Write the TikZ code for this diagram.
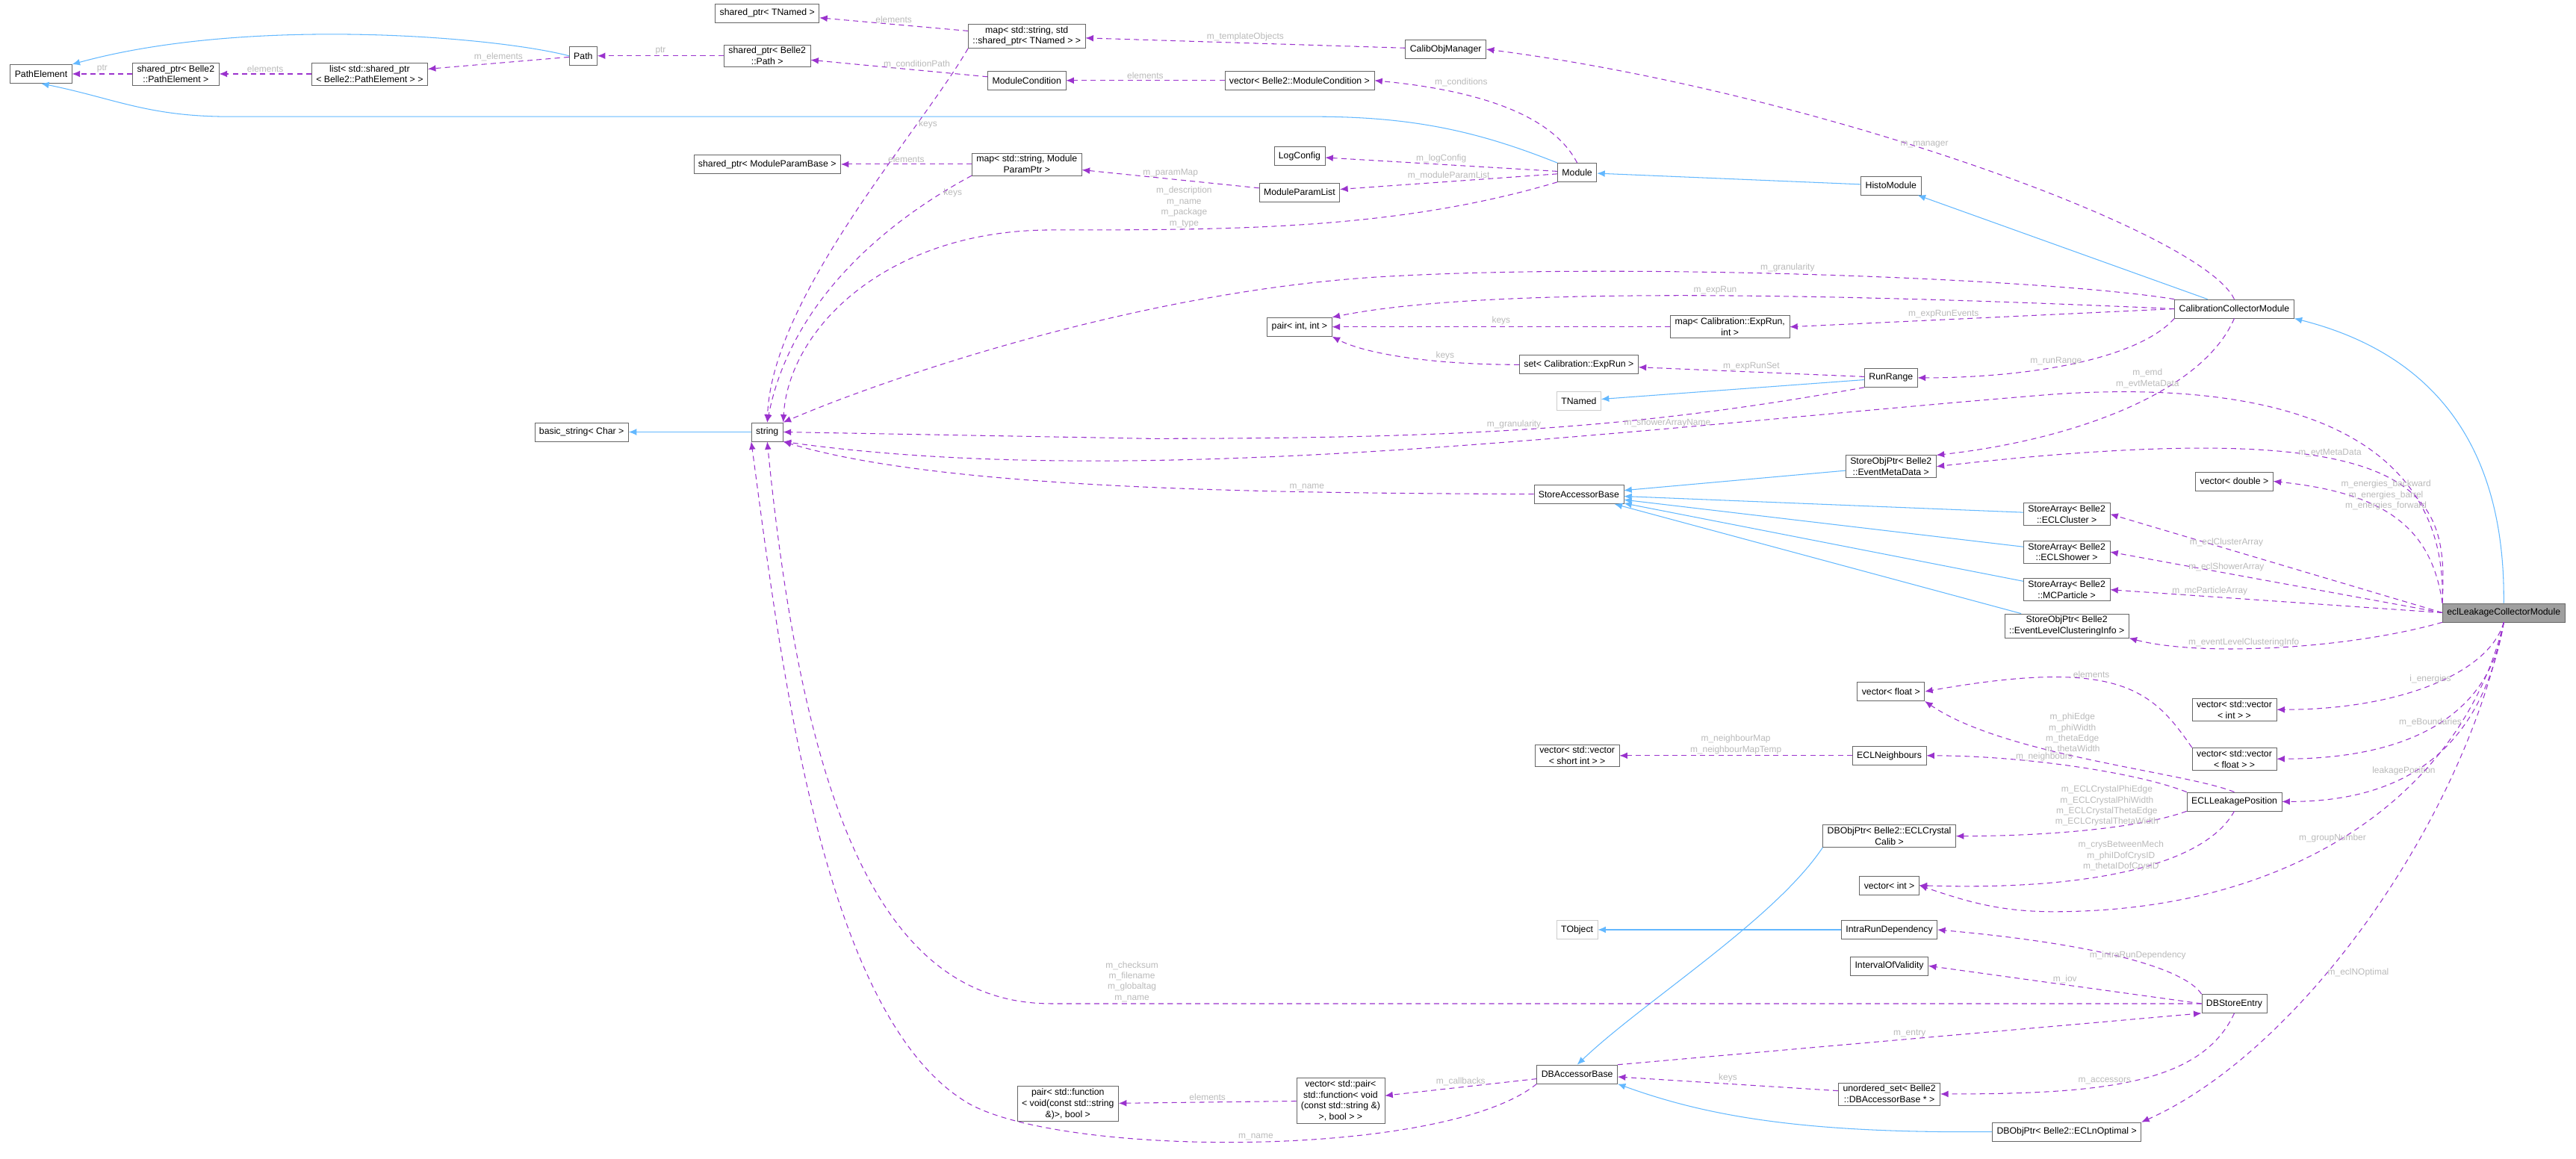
\documentclass[tikz,border=0pt]{standalone}
\usepackage{fontspec}
\setmainfont{Liberation Sans}
\usetikzlibrary{arrows.meta}
\definecolor{usecol}{HTML}{9A32CD}
\definecolor{inhcol}{HTML}{63B8FF}
\definecolor{edgecol}{HTML}{666666}
\tikzset{
  cls/.style={draw=edgecol, fill=white, align=center, inner xsep=0.12cm, inner ysep=0.06cm, minimum height=0.5cm, font=\fontsize{7}{8.4}\selectfont},
  ext/.style={cls, draw=gray!40},
  focus/.style={cls, fill=gray!75},
  use/.style={usecol, dashed, dash pattern=on 4pt off 3pt, semithick, -{Latex[length=6pt,width=5pt]}},
  inh/.style={inhcol, semithick, -{Latex[length=6pt,width=5pt]}},
  lbl/.style={text=gray!55, font=\fontsize{6.8}{8.2}\selectfont, align=center, inner sep=1pt}
}
\begin{document}
\begin{tikzpicture}[x=0.044cm, y=-0.044cm]
\useasboundingbox (0,0) rectangle (1568,705.5);
% left column
\node[cls] (pathelem) at (25,45) {PathElement};
\node[cls] (sppe) at (107,45) {shared\_ptr< Belle2\\::PathElement >};
\node[cls] (listpe) at (225,45) {list< std::shared\_ptr\\< Belle2::PathElement > >};
\node[cls] (path) at (355,34) {Path};
\node[cls] (sptnamed) at (467,8) {shared\_ptr< TNamed >};
\node[cls] (sppath) at (467,34) {shared\_ptr< Belle2\\::Path >};
\node[cls] (sparam) at (467,100) {shared\_ptr< ModuleParamBase >};
\node[cls] (basicstr) at (354,263) {basic\_string< Char >};
\node[cls] (string) at (467,263) {string};
% module column
\node[cls] (maptnamed) at (625,22) {map< std::string, std\\::shared\_ptr< TNamed > >};
\node[cls] (modcond) at (625,49) {ModuleCondition};
\node[cls] (mapparam) at (625,100) {map< std::string, Module\\ParamPtr >};
\node[cls] (calibobj) at (880,30) {CalibObjManager};
\node[cls] (vecmodcond) at (791,49) {vector< Belle2::ModuleCondition >};
\node[cls] (logcfg) at (791,95) {LogConfig};
\node[cls] (paramlist) at (791,117) {ModuleParamList};
\node[cls] (module) at (960,105) {Module};
\node[cls] (histo) at (1151,113) {HistoModule};
\node[cls] (calcoll) at (1360,188) {CalibrationCollectorModule};
\node[cls] (pairint) at (791,199) {pair< int, int >};
\node[cls] (mapexprun) at (1053,199) {map< Calibration::ExpRun,\\int >};
\node[cls] (setexprun) at (961,222) {set< Calibration::ExpRun >};
\node[ext] (tnamed) at (961,244) {TNamed};
\node[cls] (runrange) at (1151,230) {RunRange};
% store column
\node[cls] (sopmeta) at (1151,284) {StoreObjPtr< Belle2\\::EventMetaData >};
\node[cls] (storebase) at (961,301) {StoreAccessorBase};
\node[cls] (vecdouble) at (1360,293) {vector< double >};
\node[cls] (sacluster) at (1258,313) {StoreArray< Belle2\\::ECLCluster >};
\node[cls] (sashower) at (1258,336) {StoreArray< Belle2\\::ECLShower >};
\node[cls] (samcp) at (1258,359) {StoreArray< Belle2\\::MCParticle >};
\node[cls] (sopelci) at (1258,381) {StoreObjPtr< Belle2\\::EventLevelClusteringInfo >};
\node[focus] (ecl) at (1524,373) {eclLeakageCollectorModule};
% ecl leakage column
\node[cls] (vecfloat) at (1151,421) {vector< float >};
\node[cls] (vvint) at (1360,432) {vector< std::vector\\< int > >};
\node[cls] (vvshort) at (960,460) {vector< std::vector\\< short int > >};
\node[cls] (neighb) at (1150,460) {ECLNeighbours};
\node[cls] (vvfloat) at (1360,462) {vector< std::vector\\< float > >};
\node[cls] (leakpos) at (1360,488) {ECLLeakagePosition};
\node[cls] (dbcrys) at (1150,509) {DBObjPtr< Belle2::ECLCrystal\\Calib >};
\node[cls] (vecint) at (1150,539) {vector< int >};
\node[ext] (tobject) at (960,566) {TObject};
\node[cls] (intrarun) at (1150,566) {IntraRunDependency};
\node[cls] (iov) at (1150,588) {IntervalOfValidity};
\node[cls] (dbstore) at (1360,611) {DBStoreEntry};
\node[cls] (pairfunc) at (650,672) {pair< std::function\\< void(const std::string\\\&)>, bool >};
\node[cls] (vecpair) at (816,670) {vector< std::pair<\\std::function< void\\(const std::string \&)\\>, bool > >};
\node[cls] (dbaccess) at (960,654) {DBAccessorBase};
\node[cls] (uset) at (1150,666) {unordered\_set< Belle2\\::DBAccessorBase * >};
\node[cls] (dbnopt) at (1258,689) {DBObjPtr< Belle2::ECLnOptimal >};
% inheritance
\draw[inh] (path.west) .. controls (300,22) and (150,10) .. (pathelem.north east);
\draw[inh] (module.north west) .. controls (900,80) and (860,71) .. (800,71) -- (140,71) .. controls (90,71) and (70,60) .. (pathelem.south);
\draw[inh] (histo) -- (module);
\draw[inh] (calcoll) -- (histo);
\draw[inh] (ecl.north) .. controls (1525,270) and (1480,215) .. (calcoll.south east);
\draw[inh] (runrange) -- (tnamed);
\draw[inh] (string) -- (basicstr);
\draw[inh] (sopmeta) -- (storebase);
\draw[inh] (sacluster) -- (storebase);
\draw[inh] (sashower) -- (storebase);
\draw[inh] (samcp) -- (storebase);
\draw[inh] (sopelci) -- (storebase);
\draw[inh] (intrarun) -- (tobject);
\draw[inh] (dbcrys.south west) .. controls (1080,560) and (1000,610) .. (dbaccess.north);
\draw[inh] (dbnopt.west) .. controls (1100,690) and (1040,680) .. (dbaccess.south east);
% usage
\draw[use] (sppe) -- node[lbl, above] {ptr} (pathelem);
\draw[use] (listpe) -- node[lbl, above] {elements} (sppe);
\draw[use] (path) -- node[lbl, above] {m\_elements} (listpe);
\draw[use] (sppath) -- node[lbl, above] {ptr} (path);
\draw[use] (maptnamed) -- node[lbl, above] {elements} (sptnamed);
\draw[use] (modcond) -- node[lbl, above, pos=.4] {m\_conditionPath} (sppath);
\draw[use] (calibobj) -- node[lbl, above] {m\_templateObjects} (maptnamed);
\draw[use] (vecmodcond) -- node[lbl, above] {elements} (modcond);
\draw[use] (module.north) .. controls (945,70) and (900,55) .. node[lbl, above right, pos=.8] {m\_conditions} (vecmodcond.east);
\draw[use] (mapparam) -- node[lbl, above] {elements} (sparam);
\draw[use] (paramlist) -- node[lbl, above] {m\_paramMap} (mapparam);
\draw[use] (module) -- node[lbl, above] {m\_logConfig} (logcfg);
\draw[use] (module) -- node[lbl, above] {m\_moduleParamList} (paramlist);
\draw[use] (maptnamed.south west) .. controls (560,80) and (470,180) .. node[lbl, right, pos=.25] {keys} (string.north);
\draw[use] (mapparam.south west) .. controls (530,140) and (480,190) .. node[lbl, right, pos=.1] {keys} (string.north);
\draw[use] (module.south west) .. controls (850,140) and (750,140) .. node[lbl, above, pos=.75] {m\_description\\m\_name\\m\_package\\m\_type} (640,140) .. controls (540,140) and (480,200) .. (string.north east);
\draw[use] (calcoll.north west) .. controls (1250,170) and (1000,160) .. node[lbl, above, pos=.55] {m\_granularity} (850,168) .. controls (700,175) and (540,230) .. (string.north east);
\draw[use] (calcoll.north) .. controls (1340,140) and (1100,55) .. node[lbl, above, pos=.55] {m\_manager} (calibobj.east);
\draw[use] (calcoll.west) .. controls (1100,178) and (900,175) .. node[lbl, above, pos=.45] {m\_expRun} (pairint.north east);
\draw[use] (mapexprun) -- node[lbl, above] {keys} (pairint);
\draw[use] (calcoll.west) -- node[lbl, above, pos=.6] {m\_expRunEvents} (mapexprun.east);
\draw[use] (setexprun.west) .. controls (870,222) and (830,215) .. node[lbl, above, pos=.3] {keys} (pairint.south east);
\draw[use] (runrange) -- node[lbl, above] {m\_expRunSet} (setexprun);
\draw[use] (calcoll.south west) .. controls (1300,220) and (1230,230) .. node[lbl, above, pos=.55] {m\_runRange} (runrange.east);
\draw[use] (runrange.south west) .. controls (1000,260) and (900,267) .. node[lbl, above, pos=.55] {m\_granularity} (700,267) -- (string.east);
\draw[use] (calcoll.south) .. controls (1340,240) and (1260,268) .. node[lbl, left, pos=.3] {m\_emd\\m\_evtMetaData} (sopmeta.north east);
\draw[use] (ecl.north west) .. controls (1490,270) and (1400,230) .. (1250,240) .. controls (1000,260) and (700,300) .. node[lbl, above, pos=.3] {m\_showerArrayName} (string.south east);
\draw[use] (storebase) .. controls (800,300) and (580,300) .. node[lbl, above, pos=.3] {m\_name} (string.south east);
\draw[use] (ecl.north west) .. controls (1490,300) and (1480,250) .. node[lbl, above, pos=.6] {m\_evtMetaData} (sopmeta.east);
\draw[use] (ecl.north west) .. controls (1480,320) and (1450,300) .. node[lbl, above, pos=.55] {m\_energies\_backward\\m\_energies\_barrel\\m\_energies\_forward} (vecdouble.east);
\draw[use] (ecl.west) -- node[lbl, above, pos=.65] {m\_eclClusterArray} (sacluster.east);
\draw[use] (ecl.west) -- node[lbl, above, pos=.65] {m\_eclShowerArray} (sashower.east);
\draw[use] (ecl.west) -- node[lbl, above, pos=.7] {m\_mcParticleArray} (samcp.east);
\draw[use] (ecl.south west) .. controls (1430,395) and (1340,400) .. node[lbl, above, pos=.6] {m\_eventLevelClusteringInfo} (sopelci.south east);
\draw[use] (vvfloat.north west) .. controls (1310,420) and (1290,400) .. node[lbl, above, pos=.6] {elements} (vecfloat.east);
\draw[use] (ecl.south) .. controls (1515,410) and (1460,432) .. node[lbl, above, pos=.5] {i\_energies} (vvint.east);
\draw[use] (ecl.south) .. controls (1515,440) and (1460,462) .. node[lbl, above, pos=.5] {m\_eBoundaries} (vvfloat.east);
\draw[use] (ecl.south) .. controls (1510,460) and (1460,488) .. node[lbl, above, pos=.6] {leakagePosition} (leakpos.east);
\draw[use] (leakpos.north) .. controls (1330,470) and (1220,460) .. node[lbl, above, pos=.55] {m\_phiEdge\\m\_phiWidth\\m\_thetaEdge\\m\_thetaWidth} (vecfloat.south east);
\draw[use] (neighb) -- node[lbl, above] {m\_neighbourMap\\m\_neighbourMapTemp} (vvshort);
\draw[use] (leakpos.north west) .. controls (1300,470) and (1230,460) .. node[lbl, above, pos=.6] {m\_neighbours} (neighb.east);
\draw[use] (leakpos.south west) .. controls (1300,505) and (1240,509) .. node[lbl, above, pos=.4] {m\_ECLCrystalPhiEdge\\m\_ECLCrystalPhiWidth\\m\_ECLCrystalThetaEdge\\m\_ECLCrystalThetaWidth} (dbcrys.east);
\draw[use] (leakpos.south) .. controls (1340,530) and (1260,542) .. node[lbl, above, pos=.5] {m\_crysBetweenMech\\m\_phiIDofCrysID\\m\_thetaIDofCrysID} (vecint.east);
\draw[use] (ecl.south) .. controls (1500,480) and (1400,555) .. node[lbl, above, pos=.55] {m\_groupNumber} (1250,555) .. controls (1220,555) and (1200,550) .. (vecint.east);
\draw[use] (dbstore.north west) .. controls (1330,590) and (1280,575) .. node[lbl, above, pos=.45] {m\_intraRunDependency} (intrarun.east);
\draw[use] (dbstore.west) -- node[lbl, above] {m\_iov} (iov.east);
\draw[use] (dbstore.west) -- node[lbl, above, pos=.93] {m\_checksum\\m\_filename\\m\_globaltag\\m\_name} (640,611) .. controls (540,611) and (490,500) .. (string.south);
\draw[use] (dbaccess.north east) -- node[lbl, above, pos=.5] {m\_entry} (dbstore.south west);
\draw[use] (dbstore.south) .. controls (1340,660) and (1280,666) .. node[lbl, above, pos=.6] {m\_accessors} (uset.east);
\draw[use] (uset) -- node[lbl, above] {keys} (dbaccess);
\draw[use] (dbaccess) -- node[lbl, above] {m\_callbacks} (vecpair);
\draw[use] (vecpair) -- node[lbl, above] {elements} (pairfunc);
\draw[use] (dbaccess.south west) .. controls (880,705) and (650,705) .. node[lbl, above, pos=.5] {m\_name} (590,672) .. controls (500,620) and (475,400) .. (string.south west);
\draw[use] (ecl.south) .. controls (1500,500) and (1400,640) .. node[lbl, right, pos=.6] {m\_eclNOptimal} (dbnopt.north east);
\end{tikzpicture}
\end{document}
